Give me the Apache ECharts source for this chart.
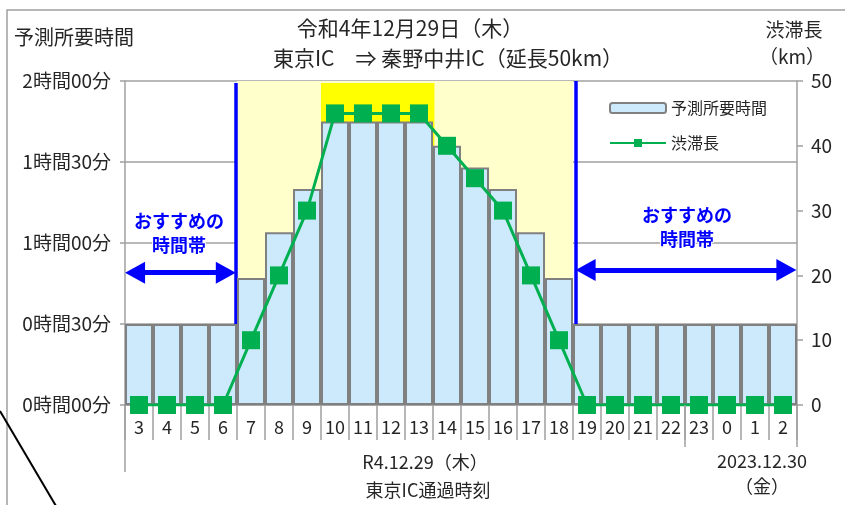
<!DOCTYPE html>
<html><head><meta charset="utf-8">
<script src="https://cdn.jsdelivr.net/npm/echarts@6/dist/echarts.min.js"></script>
<style>html,body{margin:0;padding:0;background:#fff}#c{width:845px;height:505px}</style>
</head><body><div id="c"></div>
<script>
const hours = ['3','4','5','6','7','8','9','10','11','12','13','14','15','16','17','18','19','20','21','22','23','0','1','2'];
const travelMinutes = [30,30,30,30,47,64,80,105,105,105,105,96,88,80,64,47,30,30,30,30,30,30,30,30];
const jamKm = [0,0,0,0,10,20,30,45,45,45,45,40,35,30,20,10,0,0,0,0,0,0,0,0];
const leftTickLabels = ['0時間00分','0時間30分','1時間00分','1時間30分','2時間00分'];
const seriesNames = ['予測所要時間','渋滞長'];
const recommendText = 'おすすめの\n時間帯';

const FONT = '"Noto Sans CJK JP", "Noto Sans", sans-serif';
const TXT = '#262626';
const chart = echarts.init(document.getElementById('c'), null, {renderer:'canvas'});

function txt(id, text, x, y, size, align) {
  return {type:'text', id:id, x:x, y:y, z:10,
    style:{text:text, fill:TXT, font: size+'px '+FONT, align: align||'center', verticalAlign:'middle'}};
}
const baseGraphic = [
  {type:'rect', id:'frame', shape:{x:7,y:10,width:860,height:520}, style:{fill:'none', stroke:'#a0a0a0', lineWidth:1.5}, z:0},
  {type:'line', id:'diag', shape:{x1:0,y1:411,x2:56,y2:506}, style:{stroke:'#000', lineWidth:2}, z:10},
  txt('t1','令和4年12月29日（木）', 410, 28, 21),
  txt('t2','東京IC　⇒ 秦野中井IC（延長50km）', 448, 58, 21),
  txt('yl','予測所要時間', 14, 37, 20, 'left'),
  txt('yr1','渋滞長', 794, 30, 19),
  txt('yr2','（km）', 792, 57, 19),
  txt('xd1','R4.12.29（木）', 425, 462, 18),
  txt('xd2','2023.12.30', 762, 461, 18),
  txt('xd3','（金）', 762, 486, 18),
  txt('xn','東京IC通過時刻', 428, 490, 18)
];

const option = {
  animation:false,
  textStyle:{fontFamily:FONT},
  grid:{left:125, right:48, top:81, bottom:100, containLabel:false},
  legend:{
    data: seriesNames, orient:'vertical', left:604, top:95, itemWidth:56, itemHeight:10, itemGap:19,
    textStyle:{fontSize:16, color:TXT, fontFamily:FONT}, selectedMode:false
  },
  xAxis:[
    {type:'category', data:hours, boundaryGap:true,
     axisLine:{show:true, lineStyle:{color:'#a0a0a0', width:1.5}},
     axisTick:{show:true, interval:0, length:35, lineStyle:{color:'#a0a0a0', width:1.5}},
     axisLabel:{interval:0, fontSize:18, color:TXT, margin:13, fontFamily:FONT},
     splitLine:{show:false}},
    {type:'value', min:0, max:24, show:false, gridIndex:0}
  ],
  yAxis:[
    {type:'value', min:0, max:120, interval:30, position:'left',
     axisLine:{show:true, lineStyle:{color:'#a0a0a0', width:1.5}},
     axisTick:{show:true, length:5, lineStyle:{color:'#a0a0a0', width:1.5}},
     axisLabel:{fontSize:19, color:TXT, margin:14, fontFamily:FONT,
       formatter:function(v){ return leftTickLabels[Math.round(v/30)]; }},
     splitLine:{show:true, lineStyle:{color:'#a0a0a0', width:1.5}}},
    {type:'value', min:0, max:50, interval:10, position:'right',
     axisLine:{show:true, lineStyle:{color:'#a0a0a0', width:1.5}},
     axisTick:{show:true, length:6, lineStyle:{color:'#a0a0a0', width:1.5}},
     axisLabel:{fontSize:19, color:TXT, margin:14, fontFamily:FONT},
     splitLine:{show:false}}
  ],
  series:[
    {type:'line', name:'_bg', xAxisIndex:1, yAxisIndex:0, data:[], silent:true, z:1,
     markArea:{silent:true, z:1, data:[
       [{coord:[4,0], itemStyle:{color:'#FFFFCC'}}, {coord:[16,120]}],
       [{coord:[7,96], itemStyle:{color:'#FFFF00'}}, {coord:[11.05,119.3]}]
     ]},
     markLine:{silent:true, z:1.5, symbol:'none', label:{show:false},
       data:[
         [{coord:[3.95,0], lineStyle:{color:'#0000FF', width:3.5, type:'solid'}}, {coord:[3.95,119.3]}],
         [{coord:[16.1,0], lineStyle:{color:'#0000FF', width:3.5, type:'solid'}}, {coord:[16.1,120]}],
         [{coord:[0.36,49], symbol:'triangle', symbolSize:[22,20], lineStyle:{color:'#0000FF', width:5, type:'solid'}},
          {coord:[3.6,49], symbol:'triangle', symbolSize:[22,20]}],
         [{coord:[16.45,50], symbol:'triangle', symbolSize:[22,20], lineStyle:{color:'#0000FF', width:5, type:'solid'}},
          {coord:[23.62,50], symbol:'triangle', symbolSize:[22,20]}]
       ]},
     markPoint:{silent:true, symbol:'rect', symbolSize:1, itemStyle:{color:'rgba(0,0,0,0)'},
       label:{show:true, position:'inside', formatter:recommendText, color:'#0000FF', fontWeight:'bold',
         fontSize:18, lineHeight:24, fontFamily:FONT, textBorderColor:'#ffffff', textBorderWidth:2},
       data:[{coord:[1.93,63.5]}, {coord:[20.07,65.7]}]}
    },
    {type:'bar', name:seriesNames[0], xAxisIndex:0, yAxisIndex:0, data:travelMinutes, z:2,
     barCategoryGap:'0%', barGap:'0%',
     itemStyle:{color:'#CCEAFC', borderColor:'#808080', borderWidth:2}},
    {type:'line', name:seriesNames[1], xAxisIndex:0, yAxisIndex:1, data:jamKm, z:3,
     symbol:'rect', symbolSize:18, lineStyle:{color:'#00B050', width:3},
     itemStyle:{color:'#00B050'}}
  ],
  graphic: baseGraphic
};
chart.setOption(option);

const xa = chart.convertToPixel({xAxisIndex:1}, 0);
const xb = chart.convertToPixel({xAxisIndex:1}, 20);
const xc = chart.convertToPixel({xAxisIndex:1}, 24);
const yb = chart.convertToPixel({yAxisIndex:0}, 0);
chart.setOption({graphic: baseGraphic.concat([
  {type:'line', id:'sepA', shape:{x1:xa, y1:yb, x2:xa, y2:yb+67}, style:{stroke:'#a0a0a0', lineWidth:1.5}, z:5},
  {type:'line', id:'sepB', shape:{x1:xb, y1:yb, x2:xb, y2:yb+42}, style:{stroke:'#a0a0a0', lineWidth:1.5}, z:5},
  {type:'line', id:'sepC', shape:{x1:xc, y1:yb, x2:xc, y2:yb+42}, style:{stroke:'#a0a0a0', lineWidth:1.5}, z:5}
])});
</script>
</body></html>
